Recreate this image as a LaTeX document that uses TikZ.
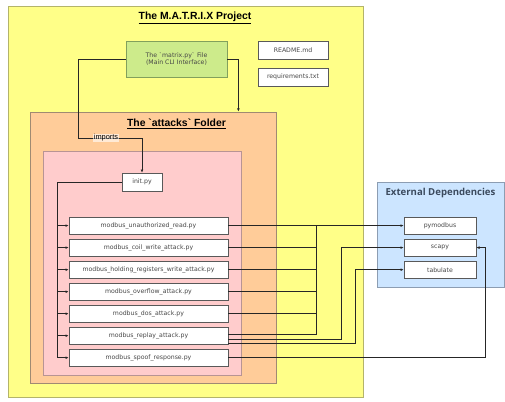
\documentclass[tikz,border=0pt]{standalone}
\usepackage{fontspec}
\setmainfont{DejaVu Sans}
\newfontfamily\titlefont{Liberation Sans}
\newfontfamily\extfont{Open Sans}
\usetikzlibrary{arrows.meta,calc}
\definecolor{yfill}{HTML}{FFFF88}
\definecolor{ydraw}{HTML}{B4B46A}
\definecolor{ofill}{HTML}{FFCC99}
\definecolor{odraw}{HTML}{A08A72}
\definecolor{pfill}{HTML}{FFCCCC}
\definecolor{pdraw}{HTML}{B89494}
\definecolor{gfill}{HTML}{CDEB8B}
\definecolor{gdraw}{HTML}{82A05C}
\definecolor{bfill}{HTML}{CCE5FF}
\definecolor{bdraw}{HTML}{8C9DB2}
\definecolor{exttext}{HTML}{3B4A5E}
\begin{document}
\begin{tikzpicture}[x=1pt,y=-1pt,
  container/.style={draw, rectangle, inner sep=0pt, line width=0.8pt},
  file/.style={draw=black!65, fill=white, rectangle, inner sep=0pt, minimum height=17.6pt,
    font=\fontsize{6.2}{7.4}\selectfont, text=black!72, line width=0.6pt},
  conn/.style={draw=black!85, line width=0.7pt},
  arr/.style={conn, -{Latex[length=3.2pt,width=2.8pt]}},
  bigtitle/.style={font=\titlefont\bfseries\fontsize{10.4}{12}\selectfont, text=black, inner sep=0pt}
]
\useasboundingbox (0,0) rectangle (505,401);
\fill[white] (0,0) rectangle (505,401);

% containers
\node[container, draw=ydraw, fill=yfill, minimum width=355pt, minimum height=391pt] (proj) at (185.5,201.5) {};
\node[bigtitle] (projtitle) at (195,18) {\underline{The M.A.T.R.I.X Project}};

\node[container, draw=odraw, fill=ofill, minimum width=246pt, minimum height=271pt] (orange) at (153,247.5) {};
\node[bigtitle] (attitle) at (176.5,124) {\underline{The \textasciigrave attacks\textasciigrave\ Folder}};

\node[container, draw=pdraw, fill=pfill, minimum width=198pt, minimum height=224pt] (pink) at (142,263) {};

\node[container, draw=bdraw, fill=bfill, minimum width=127pt, minimum height=105pt] (ext) at (440.5,234.5) {};
\node[font=\extfont\bfseries\fontsize{9.6}{11}\selectfont, text=exttext, inner sep=0pt] (exttitle) at (440.5,193.5) {External Dependencies};

% files
\node[file, draw=gdraw, fill=gfill, minimum width=101pt, minimum height=36pt, align=center] (matrix) at (176.5,59)
  {The \textasciigrave matrix.py\textasciigrave\ File\\(Main CLI Interface)};
\node[file, minimum width=70pt, minimum height=18pt] (readme) at (293,50) {README.md};
\node[file, minimum width=70pt, minimum height=18pt] (req) at (293,77) {requirements.txt};

\node[file, minimum width=40pt, minimum height=18pt] (init) at (142,182) {init.py};

\node[file, minimum width=159pt] (m1) at (148.5,225.6) {modbus\_unauthorized\_read.py};
\node[file, minimum width=159pt] (m2) at (148.5,247.6) {modbus\_coil\_write\_attack.py};
\node[file, minimum width=159pt] (m3) at (148.5,269.7) {modbus\_holding\_registers\_write\_attack.py};
\node[file, minimum width=159pt] (m4) at (148.5,291.7) {modbus\_overflow\_attack.py};
\node[file, minimum width=159pt] (m5) at (148.5,313.7) {modbus\_dos\_attack.py};
\node[file, minimum width=159pt] (m6) at (148.5,335.7) {modbus\_replay\_attack.py};
\node[file, minimum width=159pt] (m7) at (148.5,357.7) {modbus\_spoof\_response.py};

\node[file, minimum width=72pt, minimum height=17.5pt] (py) at (440,225.6) {pymodbus};
\node[file, minimum width=72pt, minimum height=17.5pt] (sc) at (440,247.6) {scapy};
\node[file, minimum width=72pt, minimum height=17.5pt] (tab) at (440,269.7) {tabulate};

% matrix.py connectors
\coordinate (imp) at (78,138);
\draw[arr] (matrix.west) -| (imp) -| (init.north);
\node[font=\titlefont\fontsize{7.4}{8}\selectfont, fill=white, fill opacity=0.6, text opacity=1, inner sep=0.6pt] (implabel) at (106,138) {imports};
\draw[arr] (matrix.east) -| ([xshift=-38pt]orange.north east);

% init bus
\coordinate (busL) at (57,182);
\draw[conn] (init.west) -- (busL) -- (busL |- m7.west);
\foreach \i in {1,...,7} {
  \draw[arr] (busL |- m\i.west) -- (m\i.west);
}

% external dependency bus
\coordinate (busR) at (316,225.6);
\draw[arr] (m1.east) -- (py.west);
\foreach \i in {2,...,5} {
  \draw[conn] (m\i.east) -- (m\i.east -| busR);
}
\coordinate (r1) at ($(m6.east)+(0,-1)$);
\coordinate (r2) at ($(m6.east)+(0,3.8)$);
\coordinate (r3) at ($(m6.east)+(0,8)$);
\draw[conn] (r1) -- (r1 -| busR);
\draw[conn] (busR) -- (busR |- r1);
\coordinate (sv) at (341,0);
\coordinate (tv) at (355,0);
\coordinate (spv) at (485,0);
\draw[arr] (r2) -| (sv |- sc.west) -- (sc.west);
\draw[arr] (r3) -| (tv |- tab.west) -- (tab.west);
\draw[arr] (m7.east) -| (spv |- sc.east) -- (sc.east);
\end{tikzpicture}
\end{document}
